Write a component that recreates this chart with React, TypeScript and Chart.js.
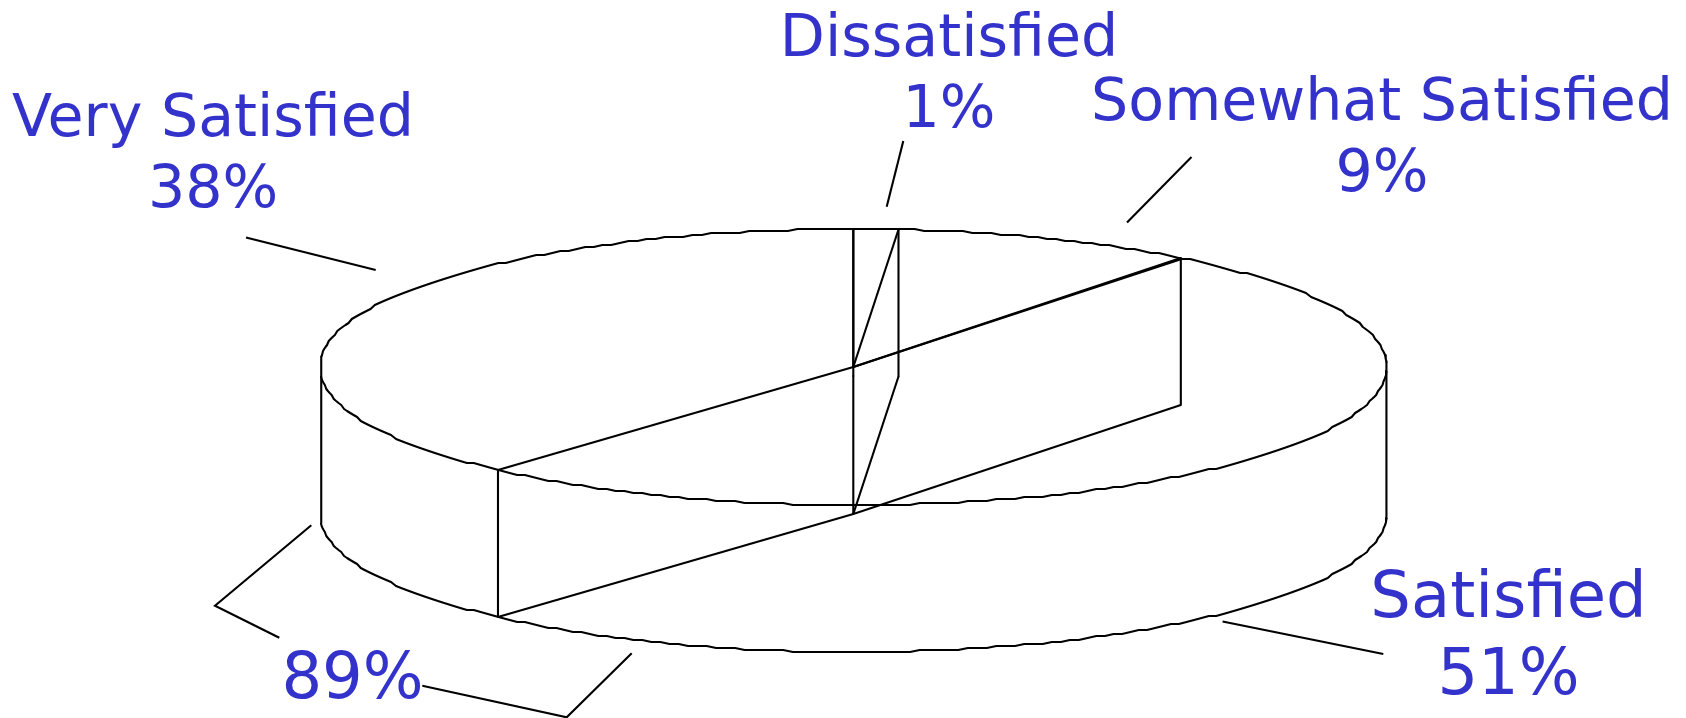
import React, { useEffect, useRef } from "react";
import { Chart, registerables } from "chart.js";

Chart.register(...registerables);

const categories = ["Dissatisfied", "Somewhat Satisfied", "Satisfied", "Very Satisfied"];
const shares = [1.35, 9.17, 51.08, 38.4];
const shareLabels = ["1%", "9%", "51%", "38%"];
const groupLabel = "89%";

const W = 1686, H = 718;
const CX = 853.3, CY = 367;
const RX = 533.5, RY = 138, DEPTH = 147;
const INK = "#000000", BLUE = "#3333CC";
const GRID_Y = 2;
const STROKE = 2.1;

const textLayout = [
  { x: 949, y: [56, 127], size: 58.6 },
  { x: 1382, y: [120, 191], size: 58.6 },
  { x: 1508.5, y: [616.5, 693.5], size: 64 },
  { x: 213, y: [136, 207], size: 58.6 },
];
const groupLayout = { x: 352.5, y: 697.5, size: 64 };

const leaderPaths = [
  [[903.3, 141], [886.7, 206.7]],
  [[1191.5, 157], [1127, 222.6]],
  [[1222.6, 621.5], [1383.3, 654]],
  [[246, 237.6], [375.7, 270]],
  [[311.3, 525.3], [215, 605.7], [279.3, 637.7]],
  [[422.3, 685.7], [566.7, 717.3], [631.7, 653.3]],
];

const rad = (d: number) => (d * Math.PI) / 180;
const onRim = (deg: number, drop = 0) => ({
  x: RX * Math.sin(rad(deg)),
  y: -RY * Math.cos(rad(deg)) + drop,
});
const snap = (v: number) => Math.round(v / GRID_Y) * GRID_Y;

function arc(from: number, to: number, drop = 0) {
  const pts: { x: number; y: number }[] = [];
  for (let a = from; a <= to; a += 1.05) {
    const p = onRim(a);
    pts.push({ x: p.x, y: snap(p.y) + drop });
  }
  const end = onRim(to);
  pts.push({ x: end.x, y: end.y + drop });
  return pts;
}

function buildLines() {
  const lines: { x: number; y: number }[][] = [];
  const backStart = 274.2, backEnd = 447.9, frontStart = 92, frontEnd = 266.3;
  lines.push(arc(backStart, backEnd));
  lines.push(arc(frontStart, frontEnd));
  lines.push(arc(frontStart, frontEnd, DEPTH));
  const lw = onRim(backStart), lf = onRim(frontEnd), rw = onRim(backEnd), rf = onRim(frontStart);
  lines.push([{ x: lw.x, y: lw.y }, { x: lw.x, y: lf.y + DEPTH }]);
  lines.push([{ x: rw.x, y: rw.y }, { x: rw.x, y: rf.y + DEPTH }]);
  let cum = 0;
  const edges = [0, ...shares.slice(0, -1).map((s) => (cum += s))];
  edges.forEach((pct) => {
    const p = onRim((pct / 100) * 360);
    lines.push([{ x: 0, y: 0 }, p]);
    lines.push([p, { x: p.x, y: p.y + DEPTH }]);
    lines.push([{ x: p.x, y: p.y + DEPTH }, { x: 0, y: DEPTH }]);
  });
  const shared = onRim(((shares[0] + shares[1]) / 100) * 360);
  lines.push([{ x: 0, y: 0 }, { x: shared.x, y: shared.y + 1.2 }]);
  return lines;
}

const labelPlugin = {
  id: "pieLabels",
  afterDraw(chart: any) {
    const { ctx } = chart;
    ctx.save();
    ctx.strokeStyle = INK;
    ctx.lineWidth = STROKE;
    leaderPaths.forEach((path) => {
      ctx.beginPath();
      path.forEach(([x, y], i) => (i ? ctx.lineTo(x, y) : ctx.moveTo(x, y)));
      ctx.stroke();
    });
    ctx.fillStyle = BLUE;
    ctx.textAlign = "center";
    ctx.textBaseline = "alphabetic";
    categories.forEach((name, i) => {
      const t = textLayout[i];
      ctx.font = `${t.size}px "DejaVu Sans"`;
      ctx.fillText(name, t.x, t.y[0]);
      ctx.fillText(shareLabels[i], t.x, t.y[1]);
    });
    ctx.font = `${groupLayout.size}px "DejaVu Sans"`;
    ctx.fillText(groupLabel, groupLayout.x, groupLayout.y);
    ctx.restore();
  },
};

export default function App() {
  const ref = useRef<HTMLCanvasElement>(null);
  useEffect(() => {
    document.body.style.margin = "0";
    const chart = new Chart(ref.current!, {
      type: "scatter",
      data: {
        datasets: buildLines().map((data) => ({
          data,
          showLine: true,
          borderColor: INK,
          borderWidth: STROKE,
          pointRadius: 0,
          tension: 0,
          borderJoinStyle: "round",
          clip: false,
        })),
      } as any,
      options: {
        animation: false,
        responsive: false,
        layout: { padding: 0 },
        plugins: { legend: { display: false }, tooltip: { enabled: false } },
        scales: {
          x: { type: "linear", display: false, min: -CX, max: W - CX },
          y: { type: "linear", display: false, reverse: true, min: -CY, max: H - CY },
        },
      },
      plugins: [labelPlugin],
    });
    return () => chart.destroy();
  }, []);
  return <canvas ref={ref} width={W} height={H} style={{ display: "block", background: "#fff" }} />;
}
